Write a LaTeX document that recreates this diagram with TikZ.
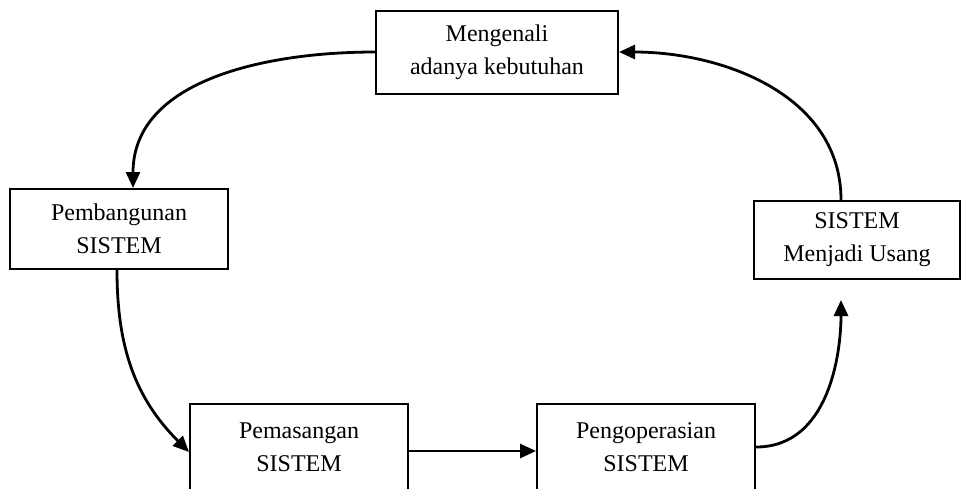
\documentclass[tikz,border=0pt]{standalone}
\usepackage{fontspec}
\setmainfont{Liberation Serif}
\usetikzlibrary{positioning,arrows.meta}

\begin{document}
\begin{tikzpicture}[x=0.5pt,y=-0.5pt,
  box/.style={draw,line width=1pt,align=center,inner sep=0pt,
    font=\fontsize{12}{16.5}\selectfont},
  panah/.style={-{Triangle[length=8pt,width=7pt]},line width=1.4pt}]
\useasboundingbox (0,0) rectangle (961,488);
\node[box,minimum width=121pt,minimum height=41.5pt] (kenal) at (497,52) {Mengenali\\adanya kebutuhan};
\node[box,minimum width=109pt,minimum height=40pt] (bangun) at (119,229) {Pembangunan\\SISTEM};
\node[box,minimum width=103pt,minimum height=39pt] (usang) at (857,240) {SISTEM\\Menjadi Usang};
\node[box,minimum width=109pt,minimum height=43.5pt] (pasang) at (299,447) {Pemasangan\\SISTEM};
\node[box,minimum width=109pt,minimum height=43.5pt] (operasi) at (646,447) {Pengoperasian\\SISTEM};
\draw[panah] (kenal.west) to[out=180,in=90] ([xshift=7pt]bangun.north);
\draw[panah] ([xshift=-1pt]bangun.south) to[out=-90,in=135] ([yshift=-2.5pt]pasang.west);
\draw[panah] ([yshift=-2pt]pasang.east) -- ([yshift=-2pt]operasi.west);
\draw[panah,shorten >=10pt] (operasi.east) to[out=0,in=-90] ([xshift=-8pt]usang.south);
\draw[panah] ([xshift=-8pt]usang.north) to[out=90,in=0] (kenal.east);
\end{tikzpicture}
\end{document}
